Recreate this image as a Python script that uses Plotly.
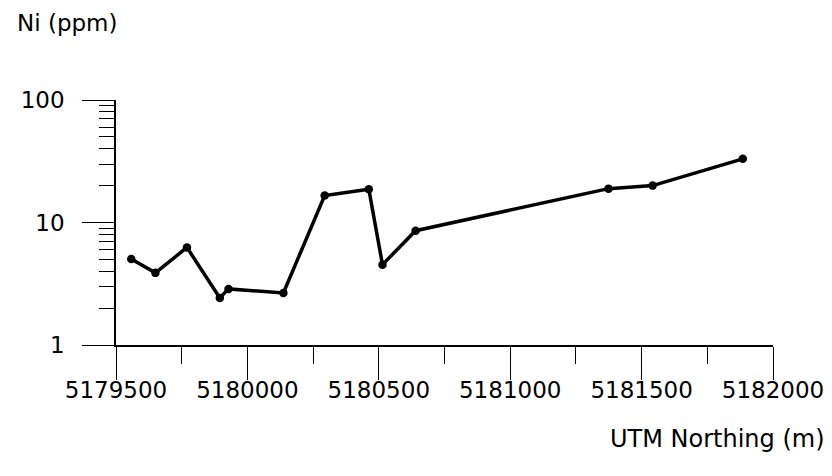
import plotly.graph_objects as go

# Data
northing = [5179558, 5179650, 5179770, 5179895, 5179928, 5180137, 5180294,
            5180462, 5180514, 5180640, 5181374, 5181542, 5181885]
ni_ppm = [5.04, 3.88, 6.26, 2.42, 2.87, 2.66, 16.6,
          18.7, 4.53, 8.57, 18.9, 20.0, 33.1]

x_tickvals = [5179500, 5180000, 5180500, 5181000, 5181500, 5182000]
x_ticktext = ["5179500", "5180000", "5180500", "5181000", "5181500", "5182000"]
x_minorvals = [5179750, 5180250, 5180750, 5181250, 5181750]
y_tickvals = [1, 10, 100]
y_ticktext = ["1", "10", "100"]
y_minorvals = [2, 3, 4, 5, 6, 7, 8, 9, 20, 30, 40, 50, 60, 70, 80, 90]

FONT = "DejaVu Sans"

fig = go.Figure()
fig.add_trace(go.Scatter(
    x=northing, y=ni_ppm, mode="lines+markers",
    line=dict(color="black", width=3.5),
    marker=dict(color="black", size=8.5),
    showlegend=False,
))

fig.update_layout(
    width=824, height=468,
    margin=dict(l=108, r=59, t=92, b=131, autoexpand=False),
    paper_bgcolor="white", plot_bgcolor="white",
    font=dict(family=FONT, size=23, color="black"),
    xaxis=dict(
        range=[5179500, 5182000], showgrid=False, zeroline=False,
        showline=True, linecolor="black", linewidth=1.5,
        tickmode="array", tickvals=x_tickvals, ticktext=x_ticktext,
        ticks="outside", ticklen=33, tickwidth=1.2, tickcolor="black",
        ticklabelstandoff=-9,
        tickfont=dict(family=FONT, size=23, color="black"),
        minor=dict(tickvals=x_minorvals, ticks="outside", ticklen=17,
                   tickwidth=1.2, tickcolor="black", showgrid=False),
    ),
    yaxis=dict(
        type="log", range=[0, 2], showgrid=False, zeroline=False,
        showline=True, linecolor="black", linewidth=1.5,
        tickmode="array", tickvals=y_tickvals, ticktext=y_ticktext,
        ticks="outside", ticklen=32, tickwidth=1.2, tickcolor="black",
        ticklabelstandoff=13,
        tickfont=dict(family=FONT, size=23, color="black"),
        minor=dict(tickvals=y_minorvals, ticks="outside", ticklen=15,
                   tickwidth=1.2, tickcolor="black", showgrid=False),
    ),
    annotations=[
        dict(text="Ni (ppm)", xref="paper", yref="paper",
             x=(15 - 116) / 657, y=(345 - 23) / 245,
             xanchor="left", yanchor="middle", showarrow=False,
             font=dict(family=FONT, size=23, color="black")),
        dict(text="UTM Northing (m)", xref="paper", yref="paper",
             x=(827 - 116) / 657, y=(345 - 439) / 245,
             xanchor="right", yanchor="middle", showarrow=False,
             font=dict(family=FONT, size=24, color="black")),
    ],
)

fig.write_html("out.html")
